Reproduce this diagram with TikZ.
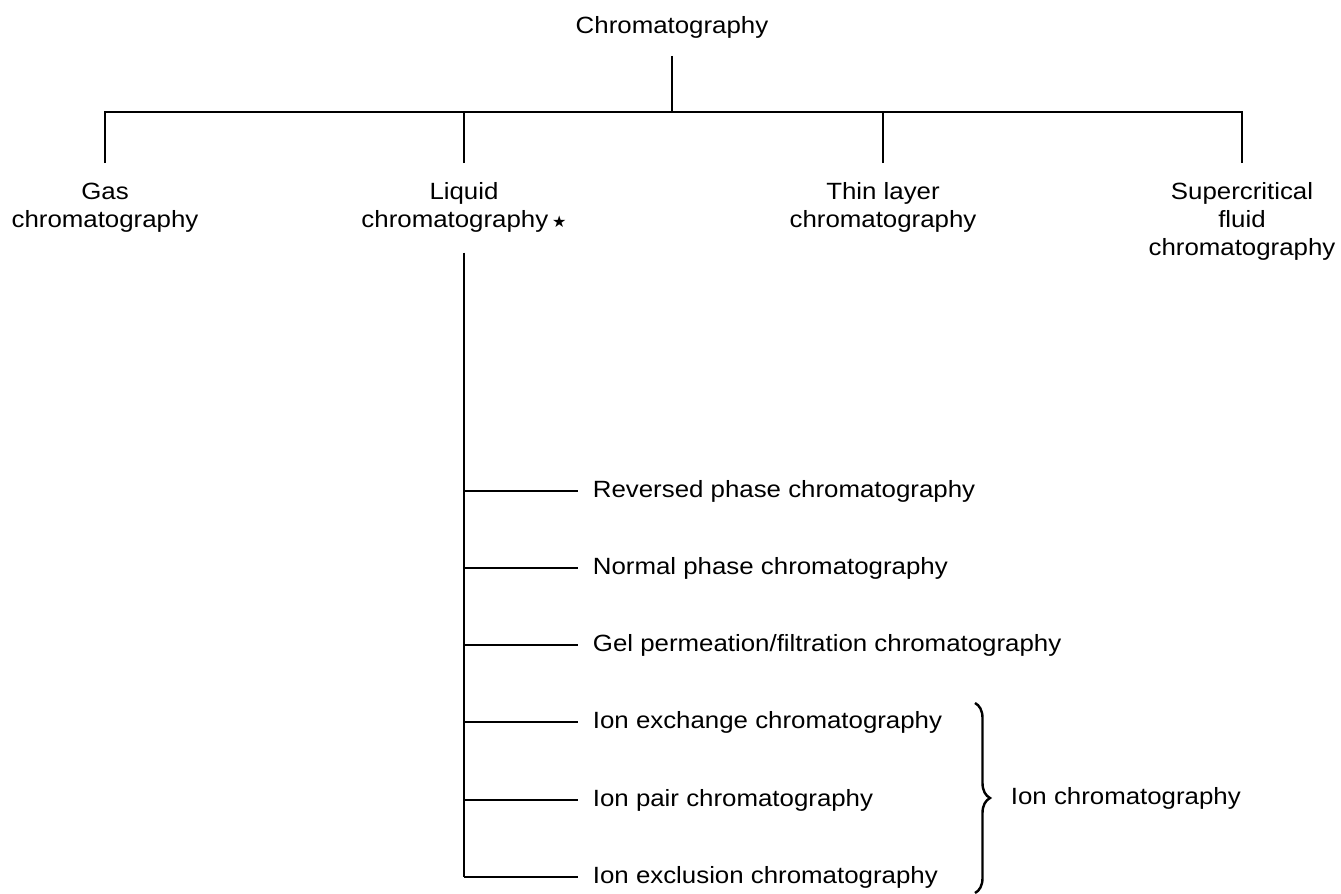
\documentclass[tikz,border=0pt]{standalone}
\usepackage{fontspec}
\setmainfont{Liberation Sans}[FakeStretch=1.1]
\newfontfamily\symfnt{DejaVu Sans}
\usetikzlibrary{decorations.pathreplacing}
\begin{document}
\begin{tikzpicture}[x=1pt,y=-1pt,line width=1.8pt,
  every node/.style={font=\fontsize{23.5}{28}\selectfont},
  rootbox/.style={anchor=base,inner xsep=0pt,inner ysep=17pt},
  topbox/.style={align=center,anchor=north,inner xsep=0pt,inner ysep=19pt},
  subbox/.style={anchor=west,inner xsep=14pt,inner ysep=0pt},
  bracestyle/.style={decorate,decoration={brace,amplitude=15pt},line width=2.4pt}]
\useasboundingbox (0,0) rectangle (1341,894);
% root
\node[rootbox] (root) at (672,33) {Chromatography};
\coordinate (j) at (672,112);
\draw (root.south) -- (j);
% level 2
\node[topbox] (gas) at (105,163) {Gas\\chromatography};
\node[topbox] (liquid) at (464,163) {Liquid\\chromatography\,{\symfnt\fontsize{16}{16}\selectfont ★}};
\node[topbox] (thin) at (883,163) {Thin layer\\chromatography};
\node[topbox] (super) at (1242,163) {Supercritical\\fluid\\chromatography};
\foreach \n in {gas,liquid,thin,super} \draw (\n.north) |- (j);
% level 3
\node[subbox] (rev) at (578,491) {Reversed phase chromatography};
\node[subbox] (norm) at (578,568) {Normal phase chromatography};
\node[subbox] (gel) at (578,645) {Gel permeation/filtration chromatography};
\node[subbox] (iex) at (578,722) {Ion exchange chromatography};
\node[subbox] (ipair) at (578,800) {Ion pair chromatography};
\node[subbox] (iexcl) at (578,877) {Ion exclusion chromatography};
\draw (liquid.south) -- (liquid.south |- iexcl.west);
\foreach \n in {rev,norm,gel,iex,ipair,iexcl} \draw (liquid.south |- \n.west) -- (\n.west);
% brace
\coordinate (bt) at (975,703);
\coordinate (bb) at (975,893);
\draw[bracestyle] (bt) -- (bb);
\node[anchor=west,inner sep=0pt] (ionc) at (1010,798) {Ion chromatography};
\end{tikzpicture}
\end{document}
